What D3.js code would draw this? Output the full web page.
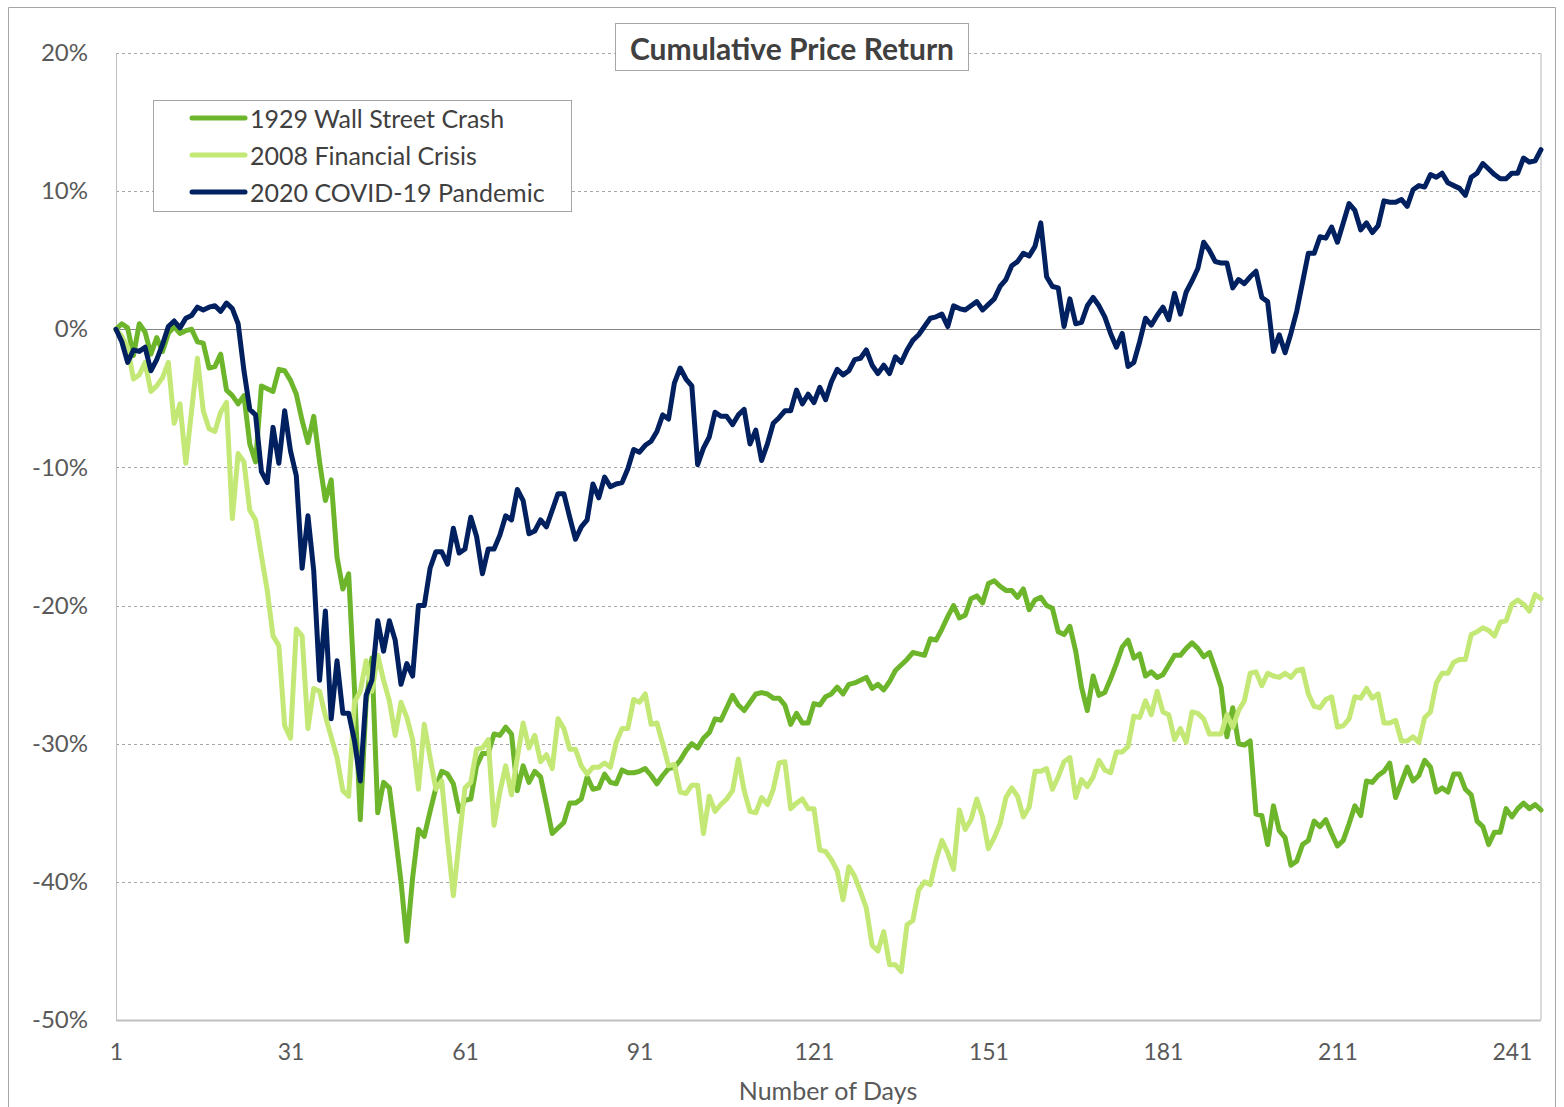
<!DOCTYPE html>
<html>
<head>
<meta charset="utf-8">
<script src="https://cdn.jsdelivr.net/npm/d3@7"></script>
<style>
  html, body { margin: 0; padding: 0; background: #fff; overflow: hidden; }
  svg { display: block; }
  svg text { font-family: Lato, "Open Sans", sans-serif; }
</style>
</head>
<body>
<div id="chart"></div>
<script>
// cumulative price return (%) by trading day
const wallStreet1929 = [
  0.0, 0.4, 0.1, -1.9, 0.4, -0.2, -1.8, -0.6, -1.6, -0.3,
  0.2, -0.3, -0.1, 0.0, -0.9, -1.0, -2.8, -2.7, -1.8, -4.4,
  -4.8, -5.4, -4.8, -8.3, -9.6, -4.1, -4.3, -4.5, -2.9, -3.0,
  -3.7, -4.7, -6.6, -8.2, -6.3, -9.6, -12.4, -10.9, -16.5, -18.8,
  -17.7, -26.0, -35.5, -27.0, -23.8, -35.0, -32.8, -33.2, -36.5, -40.0,
  -44.3, -39.7, -36.2, -36.7, -34.9, -33.2, -32.0, -32.2, -32.9, -34.9,
  -34.1, -34.0, -31.6, -30.7, -30.7, -29.3, -29.4, -28.8, -29.3, -33.4,
  -31.6, -32.8, -32.0, -32.4, -34.4, -36.5, -36.1, -35.7, -34.3, -34.3,
  -34.0, -32.4, -33.3, -33.2, -32.2, -32.8, -32.9, -31.9, -32.1, -32.1,
  -32.0, -31.8, -32.3, -32.9, -32.3, -31.8, -31.7, -31.2, -30.5, -30.0,
  -30.3, -29.6, -29.2, -28.2, -28.3, -27.4, -26.5, -27.2, -27.6, -27.0,
  -26.4, -26.3, -26.4, -26.7, -26.7, -27.2, -28.6, -27.8, -28.5, -28.5,
  -27.1, -27.2, -26.6, -26.4, -25.9, -26.4, -25.7, -25.6, -25.4, -25.2,
  -26.0, -25.7, -26.1, -25.5, -24.7, -24.3, -23.9, -23.4, -23.5, -23.6,
  -22.4, -22.5, -21.7, -20.8, -20.0, -20.9, -20.7, -19.5, -19.3, -19.8,
  -18.4, -18.2, -18.6, -18.9, -18.9, -19.4, -18.8, -20.3, -19.6, -19.4,
  -20.0, -20.2, -21.9, -22.1, -21.5, -23.3, -25.9, -27.6, -25.1, -26.5,
  -26.3, -25.3, -24.2, -23.0, -22.5, -23.8, -23.5, -25.1, -24.8, -25.2,
  -25.0, -24.3, -23.6, -23.6, -23.1, -22.7, -23.1, -23.7, -23.4, -24.6,
  -25.9, -29.5, -27.4, -30.0, -30.1, -29.8, -35.1, -35.2, -37.3, -34.5,
  -36.3, -36.8, -38.8, -38.5, -37.3, -37.0, -35.6, -36.0, -35.5, -36.5,
  -37.4, -37.0, -35.8, -34.5, -35.2, -32.7, -32.8, -32.3, -32.0, -31.4,
  -33.9, -32.8, -31.7, -32.7, -32.3, -31.2, -31.7, -33.5, -33.2, -33.5,
  -32.2, -32.2, -33.3, -33.7, -35.6, -36.0, -37.3, -36.4, -36.4, -34.7,
  -35.3, -34.7, -34.3, -34.7, -34.4, -34.8
];

const financialCrisis2008 = [
  0.0, -0.5, -1.3, -3.6, -3.3, -2.4, -4.5, -4.1, -3.5, -2.4,
  -6.8, -5.4, -9.7, -5.9, -2.1, -5.9, -7.2, -7.4, -6.0, -5.3,
  -13.7, -9.0, -9.6, -13.1, -13.8, -16.4, -18.9, -22.2, -22.9, -28.7,
  -29.6, -21.7, -22.2, -28.9, -26.0, -26.2, -28.0, -29.5, -31.0, -33.4,
  -33.8, -27.0, -26.2, -24.0, -26.2, -23.6, -25.4, -26.9, -29.4, -27.0,
  -28.1, -29.7, -33.3, -28.6, -31.0, -33.3, -32.7, -37.0, -41.0, -37.0,
  -33.2, -32.8, -30.4, -30.3, -29.7, -35.9, -33.5, -31.6, -33.7, -31.0,
  -28.5, -30.3, -29.4, -31.3, -30.8, -31.8, -28.2, -28.9, -30.4, -30.4,
  -31.6, -32.2, -31.7, -31.7, -31.4, -31.7, -29.9, -28.9, -28.9, -26.8,
  -27.0, -26.4, -28.6, -28.5, -30.0, -31.6, -31.5, -33.5, -33.6, -33.0,
  -33.0, -36.5, -33.8, -34.9, -34.4, -34.0, -33.4, -31.1, -33.4, -34.9,
  -35.0, -33.9, -34.4, -33.3, -31.4, -31.3, -34.7, -34.3, -34.0, -34.7,
  -34.7, -37.7, -37.8, -38.4, -39.2, -41.3, -38.9, -39.6, -40.7, -41.9,
  -44.6, -45.0, -43.6, -46.0, -46.0, -46.5, -43.1, -42.8, -40.6, -40.0,
  -40.2, -38.4, -37.0, -37.9, -39.1, -34.8, -36.2, -35.5, -34.0, -35.3,
  -37.6, -36.8, -35.8, -33.9, -33.2, -33.8, -35.3, -34.6, -32.0, -32.0,
  -31.8, -33.3, -32.4, -31.3, -31.0, -33.9, -32.6, -33.1, -32.4, -31.2,
  -31.9, -32.1, -30.6, -30.6, -30.2, -28.0, -28.1, -26.9, -27.9, -26.2,
  -27.7, -27.9, -29.7, -28.9, -29.9, -27.7, -27.8, -28.2, -29.3, -29.3,
  -29.3, -27.9, -28.8, -27.6, -26.9, -24.9, -24.8, -25.8, -24.9, -25.1,
  -25.2, -24.9, -25.2, -24.7, -24.6, -26.4, -27.3, -27.4, -26.8, -26.6,
  -28.8, -28.7, -28.2, -26.6, -26.7, -26.0, -26.7, -26.4, -28.5, -28.5,
  -28.3, -29.8, -29.8, -29.5, -29.9, -28.1, -27.7, -25.6, -24.9, -24.9,
  -24.1, -23.9, -23.9, -22.1, -21.9, -21.6, -21.8, -22.2, -21.2, -21.1,
  -19.9, -19.6, -19.9, -20.4, -19.2, -19.5
];

const covid2020 = [
  0.0, -0.9, -2.4, -1.5, -1.6, -1.3, -3.0, -2.2, -1.1, 0.2,
  0.6, 0.1, 0.8, 1.0, 1.6, 1.4, 1.6, 1.7, 1.3, 1.9,
  1.5, 0.4, -3.0, -5.8, -6.2, -10.3, -11.1, -7.1, -9.7, -5.9,
  -8.8, -10.6, -17.3, -13.5, -17.5, -25.4, -20.4, -28.2, -24.0, -27.8,
  -27.8, -29.8, -32.7, -26.5, -25.4, -21.1, -23.3, -21.1, -22.5, -25.7,
  -24.2, -25.1, -20.0, -20.0, -17.3, -16.1, -16.1, -17.0, -14.4, -16.2,
  -15.9, -13.6, -15.0, -17.7, -15.9, -15.9, -14.9, -13.5, -13.8, -11.6,
  -12.4, -14.8, -14.6, -13.8, -14.3, -13.1, -11.9, -11.9, -13.6, -15.2,
  -14.3, -13.8, -11.2, -12.2, -10.7, -11.4, -11.2, -11.1, -10.1, -8.7,
  -8.9, -8.4, -8.1, -7.4, -6.2, -6.5, -3.9, -2.8, -3.6, -4.1,
  -9.8, -8.6, -7.8, -6.0, -6.3, -6.3, -6.9, -6.2, -5.8, -8.3,
  -7.3, -9.5, -8.3, -6.8, -6.4, -5.9, -5.9, -4.4, -5.4, -4.7,
  -5.3, -4.2, -5.1, -3.8, -2.9, -3.3, -3.0, -2.2, -2.1, -1.5,
  -2.6, -3.2, -2.6, -3.2, -2.0, -2.4, -1.5, -0.8, -0.4, 0.2,
  0.8, 0.9, 1.1, 0.2, 1.7, 1.5, 1.4, 1.7, 2.0, 1.4,
  1.8, 2.2, 3.1, 3.6, 4.6, 4.9, 5.5, 5.3, 6.0, 7.7,
  3.8, 3.1, 3.0, 0.2, 2.2, 0.4, 0.5, 1.7, 2.3, 1.7,
  0.9, -0.3, -1.3, -0.3, -2.7, -2.4, -0.9, 0.8, 0.3, 1.0,
  1.6, 0.7, 2.6, 1.1, 2.7, 3.5, 4.4, 6.3, 5.7, 4.9,
  4.8, 4.8, 3.0, 3.6, 3.3, 3.8, 4.2, 2.3, 2.0, -1.6,
  -0.4, -1.7, -0.3, 1.3, 3.4, 5.5, 5.5, 6.7, 6.6, 7.4,
  6.3, 7.7, 9.1, 8.6, 7.2, 7.7, 7.0, 7.5, 9.3, 9.2,
  9.2, 9.4, 8.9, 10.1, 10.4, 10.3, 11.2, 11.0, 11.3, 10.6,
  10.4, 10.2, 9.7, 11.0, 11.3, 12.0, 11.6, 11.2, 10.9, 10.9,
  11.3, 11.3, 12.4, 12.1, 12.2, 13.0
];

const seriesNames = ["1929 Wall Street Crash", "2008 Financial Crisis", "2020 COVID-19 Pandemic"];
const yTicks = [20, 10, 0, -10, -20, -30, -40, -50];
const xTicks = [1, 31, 61, 91, 121, 151, 181, 211, 241];

const colors = ["#6db52b", "#c3e876", "#002060"];
const textColor = "#595959";

const width = 1564, height = 1107;
const margin = { top: 53, right: 23, bottom: 87, left: 116 };
const innerWidth = width - margin.left - margin.right;
const innerHeight = height - margin.top - margin.bottom;

const svg = d3.select("#chart").append("svg")
    .attr("width", width)
    .attr("height", height);

// outer chart border (bottom edge runs past the picture)
svg.append("path")
    .attr("d", `M8.5,${height} V7.5 H1555.5 V${height}`)
    .attr("fill", "none")
    .attr("stroke", "#a6a6a6");

const g = svg.append("g")
    .attr("transform", `translate(${margin.left}, ${margin.top})`);

const x = d3.scaleLinear()
    .domain([1, wallStreet1929.length])
    .range([0, innerWidth]);

const y = d3.scaleLinear()
    .domain([-50, 20])
    .range([innerHeight, 0]);

// gridlines
g.selectAll("line.grid")
    .data(yTicks)
    .join("line")
    .attr("class", "grid")
    .attr("x1", 0).attr("x2", innerWidth)
    .attr("y1", d => Math.round(y(d)) + 0.5)
    .attr("y2", d => Math.round(y(d)) + 0.5)
    .attr("stroke", d => d === 0 ? "#868686" : (d === -50 ? "#bfbfbf" : "#a6a6a6"))
    .attr("stroke-width", d => d === -50 ? 2 : 1)
    .attr("stroke-dasharray", d => (d === 0 || d === -50) ? null : "3,3");

// plot area sides
g.append("line")
    .attr("x1", 0.5).attr("x2", 0.5)
    .attr("y1", 0).attr("y2", innerHeight)
    .attr("stroke", "#bfbfbf");
g.append("line")
    .attr("x1", innerWidth).attr("x2", innerWidth)
    .attr("y1", 0).attr("y2", innerHeight)
    .attr("stroke", "#d9d9d9")
    .attr("stroke-width", 2);

// axes
const yAxis = g.append("g")
    .call(d3.axisLeft(y).tickValues(yTicks).tickSize(0).tickPadding(28).tickFormat(d => d + "%"));
yAxis.select(".domain").remove();
yAxis.selectAll("text")
    .style("font-size", "24px")
    .attr("fill", textColor);

const xAxis = g.append("g")
    .attr("transform", `translate(0, ${innerHeight})`)
    .call(d3.axisBottom(x).tickValues(xTicks).tickSize(0).tickPadding(24).tickFormat(d3.format("d")));
xAxis.select(".domain").remove();
xAxis.selectAll("text")
    .style("font-size", "23px")
    .attr("fill", textColor);

svg.append("text")
    .attr("x", 828)
    .attr("y", 1090)
    .attr("text-anchor", "middle")
    .attr("dominant-baseline", "central")
    .style("font-size", "25px")
    .attr("fill", textColor)
    .text("Number of Days");

// series lines
const allSeries = [wallStreet1929, financialCrisis2008, covid2020];
const line = d3.line()
    .x((d, i) => x(i + 1))
    .y(d => y(d));

g.selectAll("path.series")
    .data(allSeries)
    .join("path")
    .attr("class", "series")
    .attr("d", d => line(d))
    .attr("fill", "none")
    .attr("stroke", (d, i) => colors[i])
    .attr("stroke-width", 5)
    .attr("stroke-linejoin", "round")
    .attr("stroke-linecap", "round");

// title box
svg.append("rect")
    .attr("x", 615.5).attr("y", 23.5)
    .attr("width", 353).attr("height", 47)
    .attr("fill", "#fff")
    .attr("stroke", "#a6a6a6");
svg.append("text")
    .attr("x", 792)
    .attr("y", 48)
    .attr("text-anchor", "middle")
    .attr("dominant-baseline", "central")
    .style("font-size", "30px")
    .style("font-weight", "bold")
    .attr("fill", "#404040")
    .text("Cumulative Price Return");

// legend
const legend = svg.append("g");
legend.append("rect")
    .attr("x", 153.5).attr("y", 100.5)
    .attr("width", 418).attr("height", 111)
    .attr("fill", "#fff")
    .attr("stroke", "#a6a6a6");

const items = legend.selectAll("g.item")
    .data(seriesNames)
    .join("g")
    .attr("class", "item")
    .attr("transform", (d, i) => `translate(0, ${118 + i * 37})`);

items.append("line")
    .attr("x1", 192).attr("x2", 245)
    .attr("stroke", (d, i) => colors[i])
    .attr("stroke-width", 5)
    .attr("stroke-linecap", "round");

items.append("text")
    .attr("x", 250)
    .attr("dominant-baseline", "central")
    .style("font-size", "25px")
    .attr("fill", "#404040")
    .text(d => d);
</script>
</body>
</html>
